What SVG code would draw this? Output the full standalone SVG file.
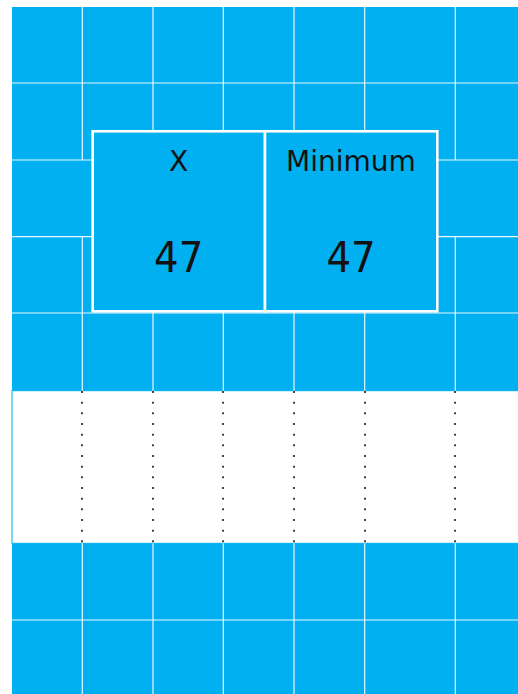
<svg xmlns="http://www.w3.org/2000/svg" width="518" height="694" viewBox="0 0 518 694">
  <style>
    .bg { fill: #00B0F0; }
    .grid { stroke: #EAF8FE; stroke-width: 1.2; fill: none; }
    .dots { stroke: #4B403D; stroke-width: 2; stroke-dasharray: 2 8.667; fill: none; }
    .cell { fill: #00B0F0; stroke: #FFFFFF; stroke-width: 2.6; }
    .label { font-family: "DejaVu Sans", sans-serif; font-size: 28px; fill: #111111; text-anchor: middle; }
    .value { font-family: "DejaVu Sans Condensed", "DejaVu Sans", sans-serif; font-size: 43px; fill: #111111; text-anchor: middle; }
  </style>
  <rect x="0" y="0" width="518" height="694" fill="#FFFFFF"/>
  <rect class="bg" x="12" y="7" width="506" height="687"/>
  <rect x="12" y="390.7" width="508" height="152.6" fill="#FFFFFF" stroke="#00B0F0" stroke-width="1"/>
  <g id="connectors">
    <g id="grid-lines" class="grid">
      <line x1="12" y1="83" x2="518" y2="83"/>
      <line x1="12" y1="160" x2="518" y2="160"/>
      <line x1="12" y1="236.7" x2="518" y2="236.7"/>
      <line x1="12" y1="313" x2="518" y2="313"/>
      <line x1="12" y1="620" x2="518" y2="620"/>
      <line x1="82.3" y1="7" x2="82.3" y2="160"/>
      <line x1="82.3" y1="236.7" x2="82.3" y2="390.7"/>
      <line x1="82.3" y1="543.3" x2="82.3" y2="694"/>
      <line x1="153" y1="7" x2="153" y2="390.7"/>
      <line x1="153" y1="543.3" x2="153" y2="694"/>
      <line x1="223.3" y1="7" x2="223.3" y2="390.7"/>
      <line x1="223.3" y1="543.3" x2="223.3" y2="694"/>
      <line x1="294" y1="7" x2="294" y2="390.7"/>
      <line x1="294" y1="543.3" x2="294" y2="694"/>
      <line x1="364.7" y1="7" x2="364.7" y2="390.7"/>
      <line x1="364.7" y1="543.3" x2="364.7" y2="694"/>
      <line x1="455.3" y1="7" x2="455.3" y2="160"/>
      <line x1="455.3" y1="236.7" x2="455.3" y2="390.7"/>
      <line x1="455.3" y1="543.3" x2="455.3" y2="694"/>
    </g>
    <g id="dotted-lines" class="dots">
      <line x1="82" y1="391" x2="82" y2="543.3"/>
      <line x1="153" y1="391" x2="153" y2="543.3"/>
      <line x1="223" y1="391" x2="223" y2="543.3"/>
      <line x1="294" y1="391" x2="294" y2="543.3"/>
      <line x1="365" y1="391" x2="365" y2="543.3"/>
      <line x1="455" y1="391" x2="455" y2="543.3"/>
    </g>
  </g>
  <g id="node-x">
    <rect class="cell" x="92.7" y="131.3" width="172.3" height="180"/>
    <text class="label" x="178.7" y="170.7">X</text>
    <text class="value" x="178.7" y="271.7">47</text>
  </g>
  <g id="node-minimum">
    <rect class="cell" x="265" y="131.3" width="172.3" height="180"/>
    <text class="label" x="351" y="170.7">Minimum</text>
    <text class="value" x="351" y="271.7">47</text>
  </g>
</svg>
